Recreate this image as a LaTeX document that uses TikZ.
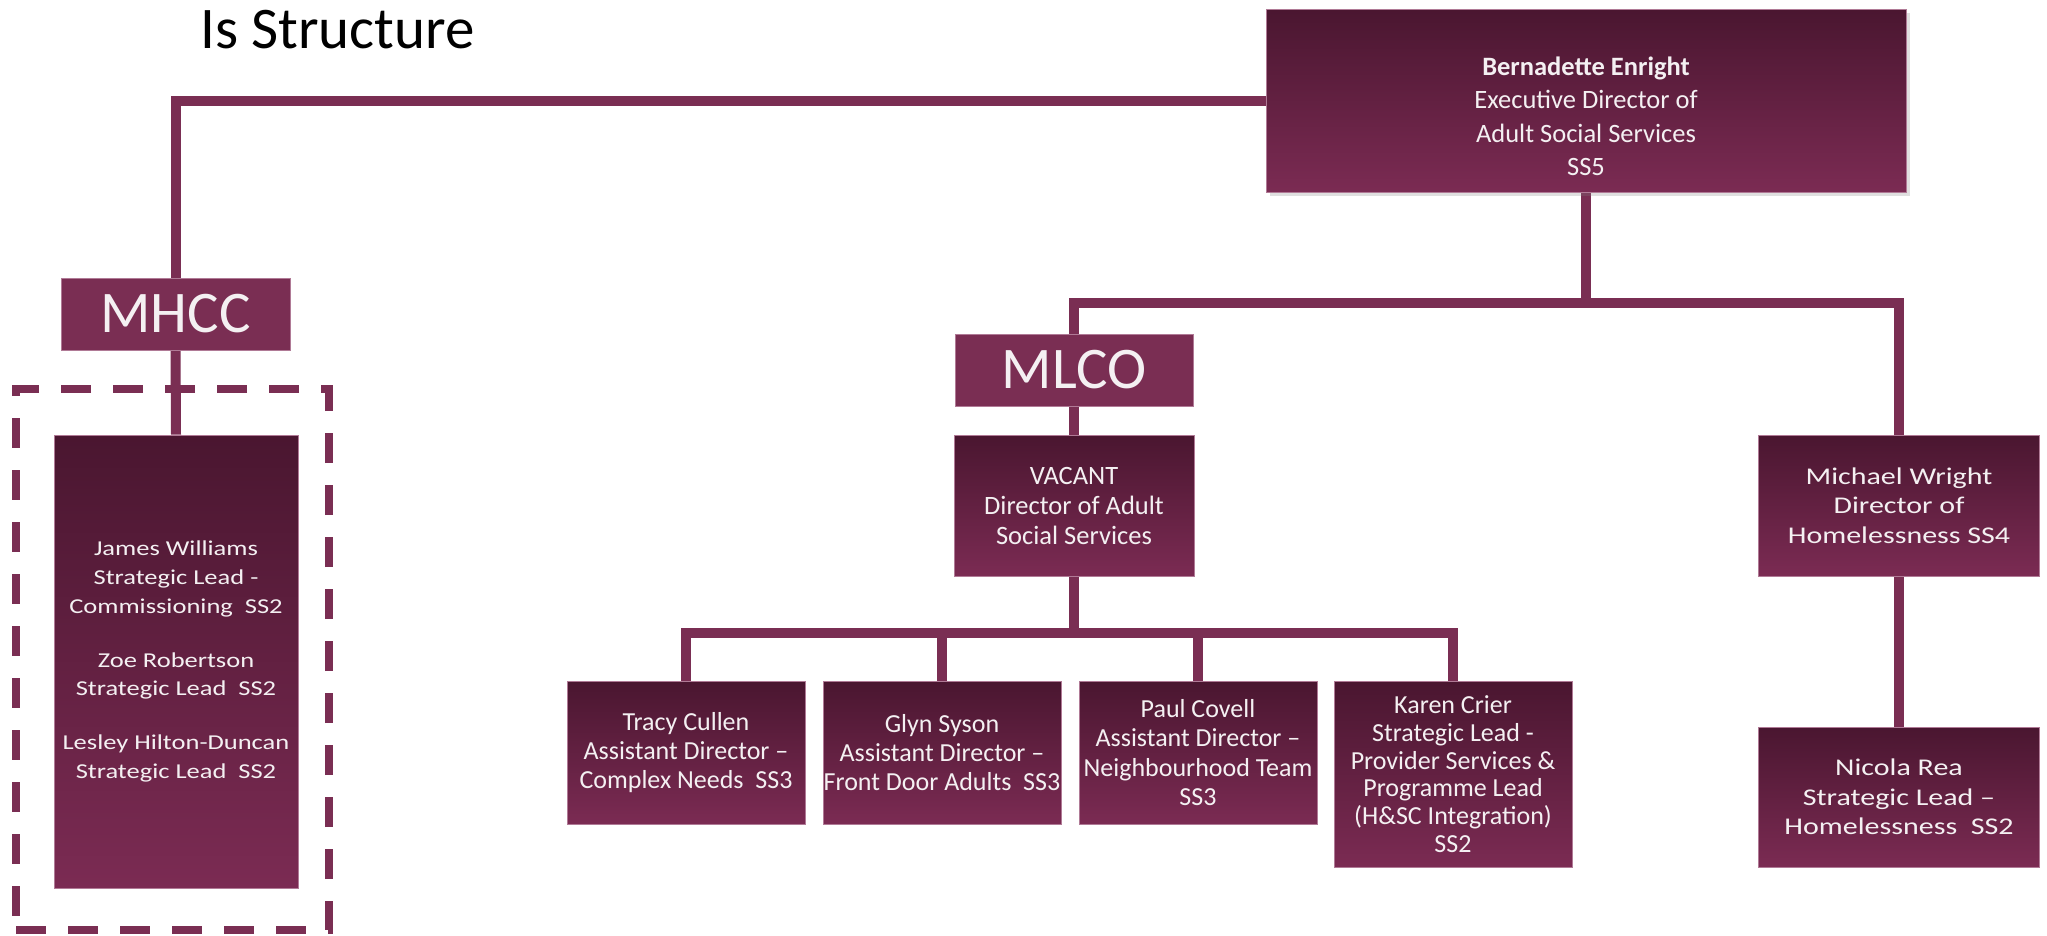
\documentclass[tikz,border=0pt]{standalone}
\usepackage{fontspec}
\setmainfont{Carlito}
\newfontfamily\widefont{Carlito}[FakeStretch=1.25]
\usetikzlibrary{shadows,backgrounds}
\definecolor{plum}{HTML}{7A2E53}
\definecolor{plumtop}{HTML}{4A1630}
\definecolor{plumbot}{HTML}{7B2B53}
\definecolor{plumedge}{HTML}{B07A96}
\definecolor{boxtext}{HTML}{F4F0F2}
\begin{document}
\begin{tikzpicture}[x=1pt,y=-1pt,
  box/.style={rectangle, inner sep=0pt, top color=plumtop, bottom color=plumbot,
    draw=plumedge, line width=0.8pt, text=boxtext, align=center},
  flat/.style={rectangle, inner sep=0pt, fill=plum, draw=plumedge, line width=0.8pt,
    text=boxtext, font=\fontsize{59}{70}\selectfont},
  conn/.style={draw=plum, line width=10pt, line join=miter},
  small/.style={font=\fontsize{26}{29.4}\selectfont},
  wideA/.style={font=\widefont\fontsize{21.2}{28.7}\selectfont},
  wideB/.style={font=\widefont\fontsize{24}{29.4}\selectfont},
  txt/.style={text=boxtext, align=center, inner sep=0pt},
  row/.style={box, small, minimum width=238pt, minimum height=143pt}]
\useasboundingbox (0,0) rectangle (2047,935);

\node[anchor=base west, inner sep=0pt, text=black, font=\fontsize{59}{70}\selectfont] (title) at (200,48) {Is Structure};

% top box
\node[box, minimum width=640pt, minimum height=183pt,
  drop shadow={opacity=0.25, shadow xshift=4pt, shadow yshift=-4pt}] (top) at (1586,100.5) {};
\node[txt, font=\fontsize{26.5}{33.5}\selectfont] (toptext) at ([yshift=-16pt]top.center)
  {\textbf{Bernadette Enright}\\Executive Director of\\Adult Social Services\\SS5};

% left branch
\node[flat, minimum width=229pt, minimum height=72pt] (mhcc) at (175.5,314) {MHCC};
\node[draw=plum, line width=8pt, dash pattern=on 30pt off 22pt, inner sep=0pt,
  minimum width=313pt, minimum height=541pt] (grp) at (172.5,659.5) {};
\node[box, wideA, minimum width=244pt, minimum height=453pt] (james) at (176,661.5)
  {James Williams\\Strategic Lead -\\Commissioning~~SS2\\[25pt]
   Zoe Robertson\\Strategic Lead~~SS2\\[25pt]
   Lesley Hilton-Duncan\\Strategic Lead~~SS2};

% middle branch
\node[flat, minimum width=238pt, minimum height=72pt] (mlco) at (1074,370) {MLCO};
\node[box, font=\fontsize{26.5}{30}\selectfont, minimum width=240pt, minimum height=141pt] (vacant) at (1074,505.5)
  {VACANT\\Director of Adult\\Social Services};

\node[row] (tracy) at (686,752.5) {Tracy Cullen\\Assistant Director –\\Complex Needs~~SS3};
\node[row] (glyn) at (942,752.5) {Glyn Syson\\Assistant Director –\\Front Door Adults~~SS3};
\node[row] (paul) at (1198,752.5) {Paul Covell\\Assistant Director –\\Neighbourhood Team\\SS3};
\node[box, font=\fontsize{26}{27.7}\selectfont, minimum width=238pt, minimum height=186pt] (karen) at (1453,774)
  {Karen Crier\\Strategic Lead -\\Provider Services \&\\Programme Lead\\(H\&SC Integration)\\SS2};

% right branch
\node[box, wideB, minimum width=281pt, minimum height=141pt] (michael) at (1899,505.5)
  {Michael Wright\\Director of\\Homelessness SS4};
\node[box, wideB, minimum width=281pt, minimum height=140pt] (nicola) at (1899,797)
  {Nicola Rea\\Strategic Lead –\\Homelessness~~SS2};

\coordinate (bar1) at (1586,303);
\coordinate (bar2) at (1074,633);

\begin{pgfonlayer}{background}
\draw[conn] (top.west) -| (mhcc.north);
\draw[conn] (mhcc.south) -- (james.north);
\draw[conn] (top.south) -- (bar1);
\draw[conn] (mlco.north) |- (bar1) -| (michael.north);
\draw[conn] (mlco.south) -- (vacant.north);
\draw[conn] (vacant.south) -- (bar2);
\draw[conn] (tracy.north) |- (bar2) -| (karen.north);
\draw[conn] (glyn.north) -- (glyn.north |- bar2);
\draw[conn] (paul.north) -- (paul.north |- bar2);
\draw[conn] (michael.south) -- (nicola.north);
\end{pgfonlayer}
\end{tikzpicture}
\end{document}
